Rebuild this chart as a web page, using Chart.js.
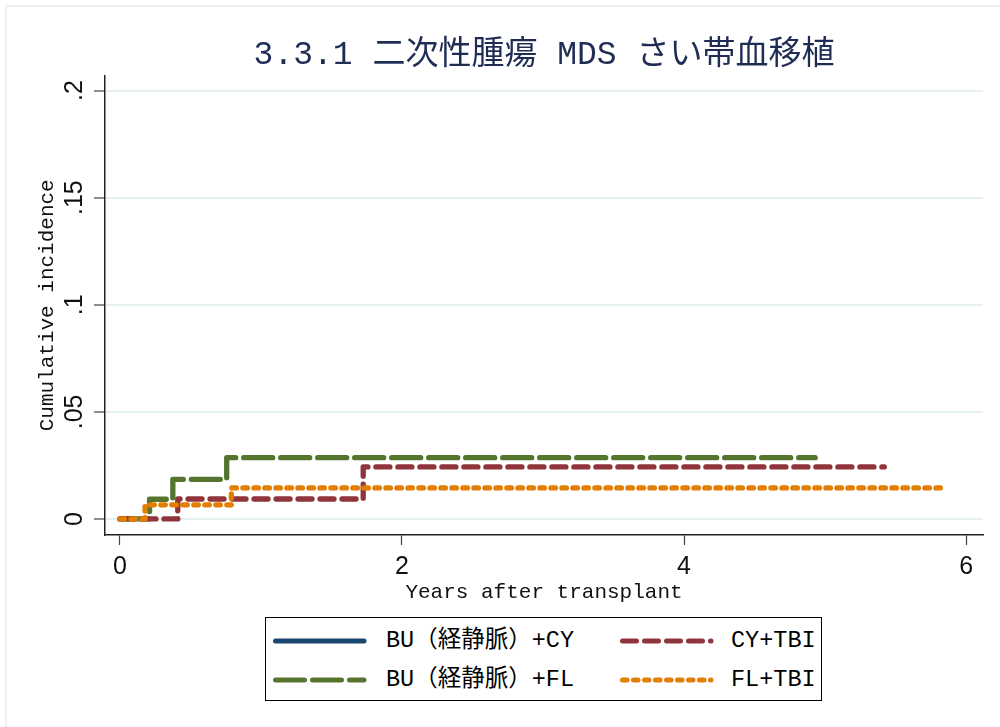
<!DOCTYPE html>
<html><head><meta charset="utf-8">
<script src="https://cdn.jsdelivr.net/npm/chart.js@4.4.0/dist/chart.umd.min.js"></script>
<style>
html,body{margin:0;padding:0;background:#fff;width:1000px;height:727px;overflow:hidden;position:relative}
#frame{position:absolute;left:5px;top:5px;width:1100px;height:800px;border:2px solid #eaf1f3;box-sizing:border-box}
#wrap{position:absolute;left:0;top:0;width:1000px;height:727px}
#legendBox{position:absolute;left:265px;top:617px;width:557px;height:84px;border:1px solid #000;box-sizing:border-box;background:#fff}
.item{position:absolute;height:30px}
.item svg{position:absolute;left:0;top:10px}
.item span{position:absolute;top:0;line-height:30px;font-family:'Liberation Mono','Noto Sans CJK JP',monospace;font-size:23.5px;color:#000;white-space:nowrap}
</style></head><body>
<div id="frame"></div>
<div id="wrap"><canvas id="c" width="1000" height="727"></canvas></div>
<div id="legendBox"></div>
<script>
const titleText = '3.3.1 二次性腫瘍 MDS さい帯血移植';
const xTitle = 'Years after transplant';
const yTitle = 'Cumulative incidence';
const seriesLabels = ['BU（経静脈）+CY', 'BU（経静脈）+FL', 'CY+TBI', 'FL+TBI'];
const buCyTimes = [];
const buCyValues = [];
const buFlTimes = [0, 0.21, 0.375, 0.757, 4.93];
const buFlValues = [0, 0.0092, 0.0185, 0.0286, 0.0286];
const cyTbiTimes = [0, 0.41, 1.725, 5.42];
const cyTbiValues = [0, 0.0093, 0.0243, 0.0243];
const flTbiTimes = [0, 0.178, 0.79, 5.86];
const flTbiValues = [0, 0.0066, 0.0145, 0.0145];
const xTickValues = [0, 2, 4, 6];
const yTickValues = [0, 0.05, 0.1, 0.15, 0.2];
const yTickLabels = ['0', '.05', '.1', '.15', '.2'];

const colors = ['#1a476f', '#55752f', '#90353b', '#e37e00'];
const dashes = [[], [29, 8], [14, 8], [4.5, 6.5]];
const timesList = [buCyTimes, buFlTimes, cyTbiTimes, flTbiTimes];
const valuesList = [buCyValues, buFlValues, cyTbiValues, flTbiValues];

const datasets = seriesLabels.map((lab, i) => ({
  label: lab,
  data: timesList[i].map((t, j) => ({x: t, y: valuesList[i][j]})),
  stepped: true,
  borderColor: colors[i],
  backgroundColor: colors[i],
  borderWidth: 5.3,
  borderDash: dashes[i],
  borderCapStyle: 'round',
  borderJoinStyle: 'round',
  pointRadius: 0,
  fill: false,
  order: 3 - i
}));

const monoFont = "'Liberation Mono','Noto Sans CJK JP',monospace";
const tickFont = "'Liberation Sans Narrow','Liberation Sans',sans-serif";

const chart = new Chart(document.getElementById('c'), {
  type: 'line',
  data: {datasets},
  options: {
    responsive: false,
    animation: false,
    layout: {padding: {left: 0, right: 17, top: 35, bottom: 122}},
    plugins: {
      legend: {display: false},
      tooltip: {enabled: false},
      title: {
        display: true, text: titleText, fullSize: false,
        font: {family: monoFont, size: 33, weight: 'normal'},
        color: '#1f2d55', padding: {top: 0, bottom: 1}
      }
    },
    scales: {
      x: {
        type: 'linear', min: -0.106, max: 6.12,
        afterBuildTicks: s => { s.ticks = xTickValues.map(v => ({value: v})); },
        afterFit: s => { s.height = 70; },
        ticks: {font: {family: tickFont, size: 25}, color: '#111', padding: 7, maxRotation: 0, autoSkip: false,
          callback: v => String(v)},
        grid: {drawOnChartArea: false, drawTicks: true, tickLength: 10, tickColor: '#444', tickWidth: 1.2},
        border: {display: true, color: '#222', width: 1.5},
        title: {display: true, text: xTitle, font: {family: monoFont, size: 21}, color: '#111', padding: {top: 0, bottom: 0}}
      },
      y: {
        type: 'linear', min: -0.0075, max: 0.207,
        afterBuildTicks: s => { s.ticks = yTickValues.map(v => ({value: v})); },
        afterFit: s => { s.width = 105; },
        ticks: {font: {family: tickFont, size: 25}, color: '#111', padding: 2, minRotation: 90, maxRotation: 90,
          crossAlign: 'center', autoSkip: false,
          callback: (v) => yTickLabels[yTickValues.indexOf(v)]},
        grid: {color: '#e6eff1', lineWidth: 2, drawTicks: true, tickLength: 11, tickColor: '#444', tickWidth: 1.2},
        border: {display: true, color: '#222', width: 1.5},
        title: {display: true, text: yTitle, font: {family: monoFont, size: 21}, color: '#111', padding: {top: 35, bottom: 0}}
      }
    }
  }
});

// HTML legend built from chart datasets
const legendSlots = [
  {idx: 0, lineX: 273, textX: 386, cy: 641},
  {idx: 2, lineX: 620, textX: 731, cy: 641},
  {idx: 1, lineX: 273, textX: 386, cy: 680},
  {idx: 3, lineX: 620, textX: 731, cy: 680}
];
legendSlots.forEach(slot => {
  const ds = chart.data.datasets[slot.idx];
  const div = document.createElement('div');
  div.className = 'item';
  div.style.left = slot.lineX + 'px';
  div.style.top = (slot.cy - 15) + 'px';
  const svgNS = 'http://www.w3.org/2000/svg';
  const svg = document.createElementNS(svgNS, 'svg');
  svg.setAttribute('width', '96'); svg.setAttribute('height', '10');
  const ln = document.createElementNS(svgNS, 'line');
  ln.setAttribute('x1', '2.5'); ln.setAttribute('x2', '91'); ln.setAttribute('y1', '5'); ln.setAttribute('y2', '5');
  ln.setAttribute('stroke', ds.borderColor); ln.setAttribute('stroke-width', '5');
  ln.setAttribute('stroke-linecap', 'round');
  if (ds.borderDash.length) ln.setAttribute('stroke-dasharray', ds.borderDash.join(' '));
  svg.appendChild(ln);
  div.appendChild(svg);
  const sp = document.createElement('span');
  sp.textContent = ds.label;
  sp.style.left = (slot.textX - slot.lineX) + 'px';
  div.appendChild(sp);
  document.body.appendChild(div);
});
</script>
</body></html>
